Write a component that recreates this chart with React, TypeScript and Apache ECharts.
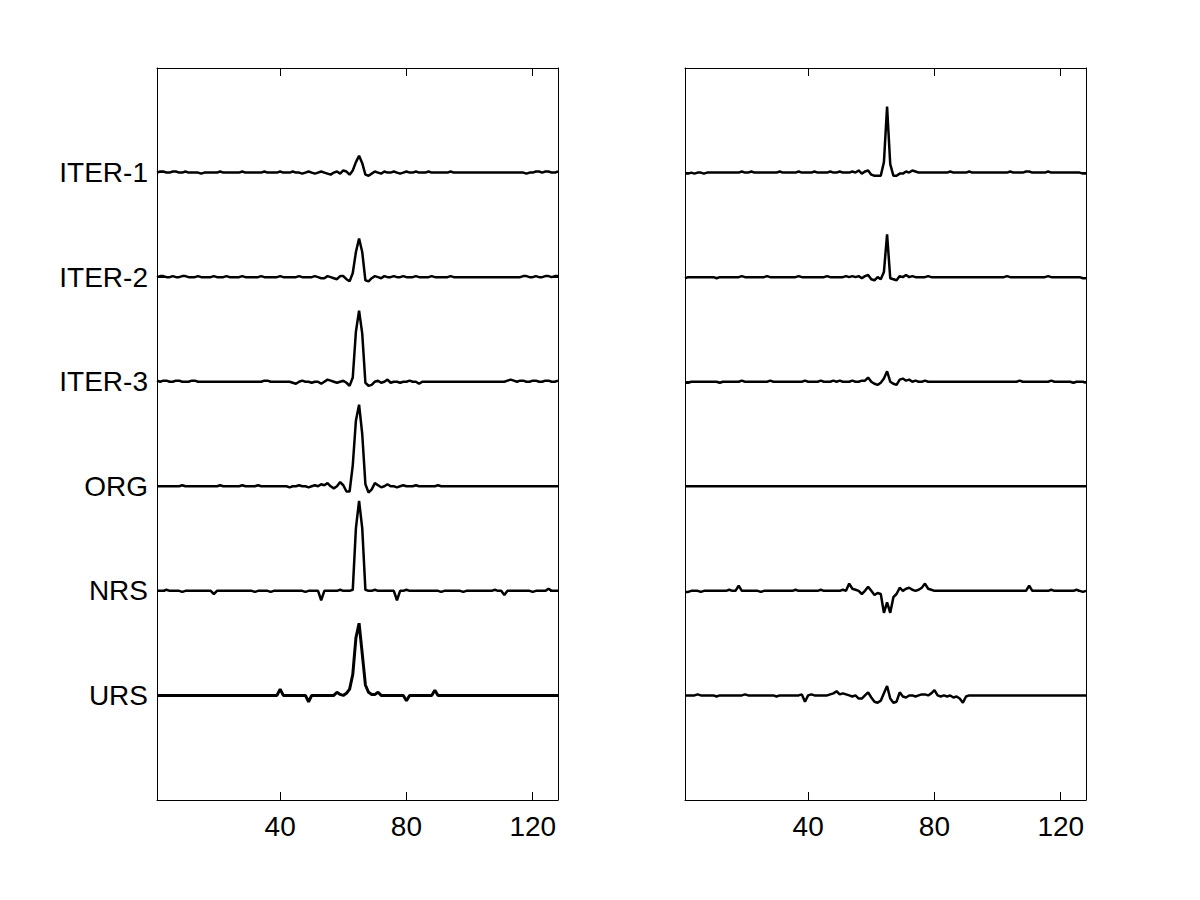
import React, { useEffect, useRef } from "react";
import * as echarts from "echarts";

// x axis: sample index 1..128
const X_MIN = 1;
const X_MAX = 128;
const xTickValues = [40, 80, 120];
// y axis: stacked trace offsets
const Y_MIN = 0;
const Y_MAX = 7;
const yTickValues = [1, 2, 3, 4, 5, 6];
const yTickLabels = ["URS", "NRS", "ORG", "ITER-3", "ITER-2", "ITER-1"];

// Trace values, in hundredths of a unit (added to the trace offset)
const leftIter1 = [
  0, 1, 1, 0, 0, 1, 1, 0, 0, 1, 0, 0, 0, 0, -1, 0,
  0, 0, 0, 0, 1, 0, 0, 0, 0, 0, 0, 1, 0, 0, 0, 0,
  0, 0, 1, 0, 0, 0, 0, 1, 0, 0, 0, 1, 0, 0, -1, 0,
  1, 0, -1, 0, 1, 0, -1, -2, 0, 1, -1, 2, 1, -2, 2, 10,
  16, 9, -2, -3, -1, 1, 0, -1, 1, 0, 0, 1, 0, -1, 0, 1,
  0, 0, 1, 0, 0, 0, 1, 0, 0, 0, 0, 0, 0, 1, 0, 0,
  0, 0, 0, 0, 0, 0, 0, 0, 0, 0, 0, 0, 0, 0, 0, 0,
  0, 0, 0, 0, 0, -1, 0, 0, 1, 1, 0, 1, 1, 0, 0, 1,
];
const leftIter2 = [
  0, 1, 1, 0, 0, 1, 0, 0, 1, 1, 0, 0, 0, 1, 0, 0,
  0, 0, 1, 0, 0, 0, 1, 0, 0, 0, 0, 1, 0, 0, 0, 0,
  0, 1, 0, 0, 0, 0, 0, 1, 0, 0, 0, 0, 0, 1, 0, 0,
  0, 0, 1, 0, -1, -1, 1, 0, -1, -2, 1, 1, -2, -4, 4, 24,
  37, 24, -3, -4, -1, 1, 0, -1, 1, 0, 0, 1, 0, 0, 1, 0,
  0, 0, 1, 0, 0, 0, 0, 1, 0, 0, 0, 0, 0, 1, 0, 0,
  0, 0, 0, 0, 0, 0, 0, 0, 0, 0, 0, 0, 0, 0, 0, 0,
  0, 0, 0, 0, 1, 1, 0, 0, 1, 0, 0, 1, 1, 0, 1, 1,
];
const leftIter3 = [
  1, 0, 1, 1, 0, 0, 1, 1, 0, 0, 0, 1, 1, 0, 0, 0,
  0, 0, 0, 0, 0, 0, 0, 0, 0, 0, 0, 0, 0, 0, 0, 0,
  0, 0, 1, 1, 0, 0, 0, 0, 0, 0, 0, -1, -2, 0, 1, 0,
  0, -1, 0, 0, -2, 0, 2, 1, 0, -1, 0, 1, -1, -4, 4, 48,
  68, 46, -1, -4, -3, 0, 1, -1, 0, 2, -1, 0, 0, -1, 0, 0,
  1, 0, 0, -2, 0, 0, 0, 0, 0, 0, 0, 0, 0, 0, 0, 0,
  0, 0, 0, 0, 0, 0, 0, 0, 0, 0, 0, 0, 0, 0, 0, 1,
  2, 1, 0, 1, 1, 0, 0, 1, 1, 0, 0, 1, 1, 0, 0, 1,
];
const leftOrg = [
  0, 0, 0, 0, 0, 0, 0, 0, 1, 0, 0, 0, 0, 0, 0, 0,
  0, 0, 0, 0, 1, 0, 0, 0, 0, 0, 0, 1, 0, 0, 0, 0,
  1, 0, 0, 0, 0, 0, 0, 0, 0, 0, -1, 0, 0, 1, 0, 0,
  -1, 0, 1, 0, 2, 1, 3, 0, -2, 0, 4, 1, -5, -5, 20, 63,
  78, 50, 2, -6, -3, 3, 1, -1, 0, 2, 0, 0, -1, 0, 1, 0,
  0, 0, 1, 0, 0, 0, 0, 0, 0, 1, 0, 0, 0, 0, 0, 0,
  0, 0, 0, 0, 0, 0, 0, 0, 0, 0, 0, 0, 0, 0, 0, 0,
  0, 0, 0, 0, 0, 0, 0, 0, 0, 0, 0, 0, 0, 0, 0, 0,
];
const leftNrs = [
  0, 0, 0, 1, 0, 0, 0, 0, -1, 0, 0, 0, 0, 0, 0, 0,
  0, 0, -3, 0, 0, 0, 0, 0, 0, 0, 0, 0, 0, 0, 0, -1,
  0, 0, 0, 0, -1, 0, 0, 0, 0, 0, 0, 0, 0, 0, 0, -1,
  0, 0, 0, 0, -9, 0, 0, 0, 0, 0, 1, 0, 0, 0, 1, 60,
  86, 60, 1, 0, 0, 1, 0, 0, 0, 0, 0, 0, -9, 0, 0, 1,
  0, 0, 0, 0, 0, 0, 0, 0, 0, 0, -1, 0, 0, 0, 0, 0,
  0, -1, 0, 0, 0, 0, 0, 0, 0, 0, 0, 1, 0, 0, -4, 0,
  0, 0, 0, 0, 0, 0, 0, -1, 0, 0, 0, 0, 2, 0, 0, 0,
];
const leftUrs = [
  0, 0, 0, 0, 0, 0, 0, 0, 0, 0, 0, 0, 0, 0, 0, 0,
  0, 0, 0, 0, 0, 0, 0, 0, 0, 0, 0, 0, 0, 0, 0, 0,
  0, 0, 0, 0, 0, 0, 0, 6, 0, 0, 0, 0, 0, 0, 0, 0,
  -6, 0, 0, 0, 0, 0, 0, 0, 0, 3, 1, 0, 2, 6, 20, 55,
  69, 40, 10, 3, 1, 1, 3, 0, 0, 0, 0, 0, 0, 0, 0, -5,
  0, 0, 0, 0, 0, 0, 0, 0, 5, 0, 0, 0, 0, 0, 0, 0,
  0, 0, 0, 0, 0, 0, 0, 0, 0, 0, 0, 0, 0, 0, 0, 0,
  0, 0, 0, 0, 0, 0, 0, 0, 0, 0, 0, 0, 0, 0, 0, 0,
];

const rightIter1 = [
  -1, -1, 0, -1, 0, 0, -1, 0, 0, 0, 0, 0, 0, 0, 0, 0,
  0, 0, 1, 0, 0, 1, 0, 0, 0, 0, 0, 0, 0, 0, 1, 0,
  0, 0, 0, 0, 1, 0, 0, 0, 0, 1, 0, 0, 0, 0, 1, 0,
  0, 1, 0, 0, 0, 1, 0, 2, -1, 1, 2, -2, -3, -3, -3, 10,
  63, 8, -3, -3, -1, -1, 1, 0, 2, 1, 0, 0, 0, 0, 0, 0,
  0, 0, 0, 0, 1, 0, 0, 0, 0, 0, 1, 0, 0, 0, 0, 0,
  0, 0, 0, 0, 0, 0, 0, 1, 0, 0, 0, 0, 1, 1, 0, 0,
  0, 0, 0, 1, 0, 0, 0, 0, 0, 0, 0, 0, 0, 0, -1, -1,
];
const rightIter2 = [
  -1, 0, 0, 0, 0, 0, 0, 0, 0, 0, -1, 0, 0, 0, 0, 0,
  0, 0, 1, 0, 0, 0, 0, 0, 0, 0, 1, 0, 0, 0, 0, 0,
  0, 0, 0, 0, 1, 0, 0, 0, 0, 0, 0, 0, 0, 1, 0, 0,
  0, 0, 0, 1, 0, 1, 0, 1, -1, 1, 2, -2, -3, 0, -2, 5,
  41, -1, -2, -3, 1, 0, 2, 0, 1, 0, 0, 0, 0, 1, 0, 0,
  0, 0, 0, 0, 0, 0, 0, 0, 0, 0, 0, 0, 0, 0, 0, 0,
  0, 0, 0, 0, 0, 0, 1, 0, 0, 0, 0, 0, 0, 0, 0, 0,
  0, 0, 0, 1, 0, 0, 0, 0, 0, 0, 0, 0, 0, 0, -1, -1,
];
const rightIter3 = [
  -1, -1, 0, 0, 0, 0, 0, 0, 0, 0, 0, -1, 0, 0, 0, 0,
  0, 0, 1, 0, 0, 0, 0, 0, 0, 0, 0, 1, 0, 0, 0, 0,
  0, 0, 0, 0, 0, 0, 1, 0, 0, 0, 0, 1, 0, 0, 0, 1,
  0, 1, 0, 0, 0, 1, 0, 0, 1, 1, 4, 0, -2, -3, -1, 3,
  10, 0, -2, -3, 2, 3, 1, 2, 0, 1, 0, 0, 1, 0, 0, 0,
  0, 0, 0, 0, 0, 0, 0, 0, 0, 0, 0, 0, 0, 0, 0, 0,
  0, 0, 0, 0, 0, 0, 0, 0, 0, 0, 1, 0, 0, 0, 0, 0,
  0, 0, 0, 0, 1, 0, 0, 0, 0, 0, 0, -1, 0, 0, 0, -1,
];
const rightOrg = [
  0, 0, 0, 0, 0, 0, 0, 0, 0, 0, 0, 0, 0, 0, 0, 0,
  0, 0, 0, 0, 0, 0, 0, 0, 0, 0, 0, 0, 0, 0, 0, 0,
  0, 0, 0, 0, 0, 0, 0, 0, 0, 0, 0, 0, 0, 0, 0, 0,
  0, 0, 0, 0, 0, 0, 0, 0, 0, 0, 0, 0, 0, 0, 0, 0,
  0, 0, 0, 0, 0, 0, 0, 0, 0, 0, 0, 0, 0, 0, 0, 0,
  0, 0, 0, 0, 0, 0, 0, 0, 0, 0, 0, 0, 0, 0, 0, 0,
  0, 0, 0, 0, 0, 0, 0, 0, 0, 0, 0, 0, 0, 0, 0, 0,
  0, 0, 0, 0, 0, 0, 0, 0, 0, 0, 0, 0, 0, 0, 0, 0,
];
const rightNrs = [
  -1, -1, 0, 0, 0, -1, 0, 0, 0, 0, 0, 0, 0, 0, 1, 0,
  0, 5, 0, 0, 0, 0, 0, 0, -1, 0, 0, 0, 0, 0, 0, 0,
  0, 0, 0, 1, 0, 0, 0, 0, 0, 0, 0, 1, 0, 0, 0, 0,
  0, 0, 1, 0, 7, 2, 1, 0, -3, 0, 4, 0, -4, -2, -3, -21,
  -11, -21, -6, -3, 3, 0, 2, 3, 1, 0, 1, 3, 7, 2, 1, 0,
  0, 0, 0, 0, 0, 0, 0, 0, 0, 0, 0, 0, 0, 0, 0, 0,
  0, 0, 0, 0, 0, 0, 0, 0, 0, 0, 0, 0, 0, 5, 0, 0,
  0, 0, 0, 0, 1, 0, 0, 0, 0, 0, 0, 0, 1, 0, -1, 0,
];
const rightUrs = [
  0, 0, 0, 0, 1, 0, 0, 0, 0, 0, -1, 0, 0, 0, 0, 0,
  0, 0, 0, 1, 0, 0, 0, 0, 0, 0, 0, 0, 0, -1, 0, 0,
  0, 0, 0, 0, 0, 1, -6, 0, 1, 0, 0, 0, 0, 0, 1, 2,
  4, 1, 2, 1, 0, -1, 0, -3, -3, 0, 3, -2, -6, -7, -5, 2,
  9, -3, -7, -6, 3, -1, -2, 0, 0, -1, 0, 1, 1, 0, 2, 5,
  0, -1, 0, -1, 0, -2, -1, -3, -7, -1, 0, 0, 0, 0, 0, 0,
  0, 0, 0, 0, 0, 0, 0, 0, 0, 0, 0, 0, 0, 0, 0, 0,
  0, 0, 0, 0, 0, 0, 0, 0, 0, 0, 0, 0, 0, 0, 0, 0,
];

const leftTraces = [leftUrs, leftNrs, leftOrg, leftIter3, leftIter2, leftIter1];
const rightTraces = [rightUrs, rightNrs, rightOrg, rightIter3, rightIter2, rightIter1];

const FONT = "Arial, 'Liberation Sans', Helvetica, sans-serif";

function toPoints(values: number[], offset: number) {
  return values.map((v, i) => [X_MIN + i, offset + v / 100]);
}

export default function App() {
  const ref = useRef<HTMLDivElement>(null);

  useEffect(() => {
    if (!ref.current) return;
    const chart = echarts.init(ref.current, null, { renderer: "svg" });

    const axisLineStyle = { show: true, lineStyle: { color: "#000", width: 1 } };

    const makeX = (grid: number, position: "bottom" | "top", labels: boolean) => ({
      type: "value",
      gridIndex: grid,
      position,
      min: X_MIN,
      max: X_MAX,
      axisLine: { ...axisLineStyle, onZero: false },
      axisTick: { show: true, inside: true, length: 8, customValues: xTickValues, lineStyle: { color: "#000" } },
      axisLabel: {
        show: labels,
        customValues: xTickValues,
        color: "#000",
        fontFamily: FONT,
        fontSize: 28,
        margin: 12,
      },
      splitLine: { show: false },
    });

    const makeY = (grid: number, position: "left" | "right", labels: boolean) => ({
      type: "value",
      gridIndex: grid,
      position,
      min: Y_MIN,
      max: Y_MAX,
      axisLine: { ...axisLineStyle, onZero: false },
      axisTick: { show: true, inside: true, length: 8, customValues: yTickValues, lineStyle: { color: "#000" } },
      axisLabel: {
        show: labels,
        customValues: yTickValues,
        formatter: (v: number) => yTickLabels[yTickValues.indexOf(v)] ?? "",
        color: "#000",
        fontFamily: FONT,
        fontSize: 28,
        margin: 9,
      },
      splitLine: { show: false },
    });

    const series: any[] = [];
    leftTraces.forEach((vals, k) => {
      series.push({
        type: "line",
        xAxisIndex: 0,
        yAxisIndex: 0,
        data: toPoints(vals, yTickValues[k]),
        showSymbol: false,
        symbol: "none",
        lineStyle: { color: "#000", width: k === 0 ? 3 : 2.5 },
        silent: true,
      });
    });
    rightTraces.forEach((vals, k) => {
      series.push({
        type: "line",
        xAxisIndex: 2,
        yAxisIndex: 2,
        data: toPoints(vals, yTickValues[k]),
        showSymbol: false,
        symbol: "none",
        lineStyle: { color: "#000", width: 2.5 },
        silent: true,
      });
    });

    chart.setOption({
      animation: false,
      backgroundColor: "#fff",
      grid: [
        { left: 157, top: 68, width: 401, height: 732, containLabel: false },
        { left: 685, top: 68, width: 401, height: 732, containLabel: false },
      ],
      xAxis: [makeX(0, "bottom", true), makeX(0, "top", false), makeX(1, "bottom", true), makeX(1, "top", false)],
      yAxis: [makeY(0, "left", true), makeY(0, "right", false), makeY(1, "left", false), makeY(1, "right", false)],
      series,
    });

    return () => chart.dispose();
  }, []);

  return (
    <div
      ref={ref}
      style={{ position: "fixed", left: 0, top: 0, width: 1200, height: 900, background: "#fff" }}
    />
  );
}
